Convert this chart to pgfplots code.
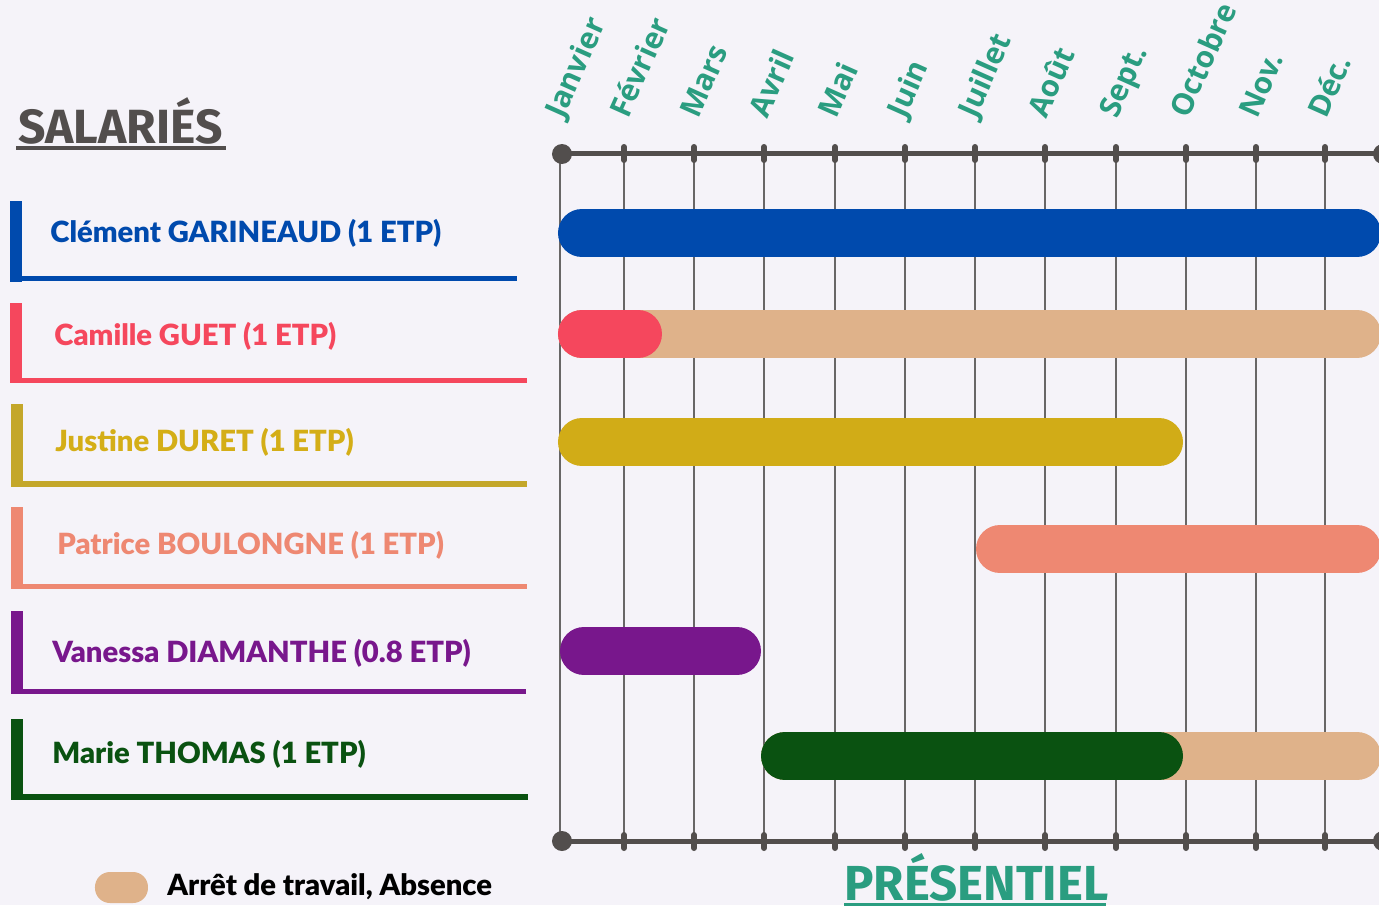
\documentclass[border=0pt]{standalone}
\usepackage{pgfplots}
\pgfplotsset{compat=1.18}
\usepackage{fontspec}
\setmainfont{Lato}
\newfontfamily\heavyfont{Lato Black}
\newfontfamily\monthfont{Open Sans}
\newfontfamily\titlefont{Fira Sans}
\definecolor{bgC}{HTML}{F5F3F9}
\definecolor{blueC}{HTML}{004AAD}
\definecolor{redC}{HTML}{F5475D}
\definecolor{tanC}{HTML}{DFB28A}
\definecolor{yellowC}{HTML}{D1AC17}
\definecolor{yellowT}{HTML}{D4AE17}
\definecolor{yellowL}{HTML}{C4A72A}
\definecolor{salmonC}{HTML}{EE8872}
\definecolor{purpleC}{HTML}{78178C}
\definecolor{greenC}{HTML}{0A5211}
\definecolor{axC}{HTML}{524E4D}
\definecolor{gridC}{HTML}{686666}
\definecolor{tealC}{HTML}{2A9D80}
\begin{document}
\begin{tikzpicture}
\fill[bgC] (-280pt,-32pt) rectangle (409.5pt,420.5pt);
\begin{axis}[
  scale only axis, width=409.5pt, height=344pt,
  xmin=0, xmax=819, ymin=153, ymax=841, y dir=reverse,
  clip=false,
  axis line style={draw=none},
  xtick={0,64,134,204,275,345,415,485,556,626,696,765},
  xticklabels={}, ytick=\empty,
  tick style={draw=none},
  xmajorgrids, major grid style={draw=gridC, line width=1pt},
]
% bars (x: pixel offset from Janvier line, y: row centre)
\addplot[draw=blueC, line width=24pt, line cap=round] coordinates {(22,233) (797,233)};
\addplot[draw=tanC, line width=24pt, line cap=round] coordinates {(22,334) (797,334)};
\addplot[draw=redC, line width=24pt, line cap=round] coordinates {(22,334) (78,334)};
\addplot[draw=yellowC, line width=24pt, line cap=round] coordinates {(22,442) (599,442)};
\addplot[draw=salmonC, line width=24pt, line cap=round] coordinates {(440,549) (797,549)};
\addplot[draw=purpleC, line width=24pt, line cap=round] coordinates {(24,651) (177,651)};
\addplot[draw=tanC, line width=24pt, line cap=round] coordinates {(225,756) (797,756)};
\addplot[draw=greenC, line width=24pt, line cap=round] coordinates {(225,756) (599,756)};
% timeline axes
\draw[axC, line width=2.5pt] (axis cs:0,153) -- (axis cs:821,153);
\draw[axC, line width=2.5pt] (axis cs:0,841) -- (axis cs:821,841);
\fill[axC] (axis cs:2,154) circle[radius=5pt];
\fill[axC] (axis cs:2,841) circle[radius=5pt];
\fill[axC] (axis cs:823,154) circle[radius=5pt];
\fill[axC] (axis cs:823,841) circle[radius=5pt];
\pgfplotsinvokeforeach{64,134,204,275,345,415,485,556,626,696,765}{
  \draw[axC, line width=3pt, line cap=round] (axis cs:#1,147) -- (axis cs:#1,160);
  \draw[axC, line width=3pt, line cap=round] (axis cs:#1,835) -- (axis cs:#1,848);
}
% month labels
\begin{scope}[every node/.style={rotate=66, anchor=base west, inner sep=0pt, text=tealC, font=\monthfont\bfseries\fontsize{15}{18}\selectfont}]
\node at (axis cs:3,120) {Janvier};
\node at (axis cs:68,120) {Février};
\node at (axis cs:138,120) {Mars};
\node at (axis cs:207,120) {Avril};
\node at (axis cs:276,120) {Mai};
\node at (axis cs:345,120) {Juin};
\node at (axis cs:416,120) {Juillet};
\node at (axis cs:486,120) {Août};
\node at (axis cs:557,120) {Sept.};
\node at (axis cs:628,120) {Octobre};
\node at (axis cs:697,120) {Nov.};
\node at (axis cs:766,120) {Déc.};
\end{scope}
% title
\node[anchor=base west, inner sep=0pt, text=axC, font=\titlefont\bfseries\fontsize{24}{28}\selectfont] at (axis cs:-542,143) {SALARIÉS};
\fill[axC] (axis cs:-544,146) rectangle (axis cs:-334,150);
\node[anchor=base west, inner sep=0pt, text=tealC, font=\titlefont\bfseries\fontsize{24.6}{28}\selectfont] at (axis cs:284,900) {PRÉSENTIEL};
\fill[tealC] (axis cs:284,903) rectangle (axis cs:546,907);
% row labels
\begin{scope}[every node/.style={anchor=base west, inner sep=0pt, font=\heavyfont\fontsize{14.6}{18}\selectfont}]
\fill[blueC] (axis cs:-550,201) rectangle (axis cs:-538,282);
\fill[blueC] (axis cs:-538,276) rectangle (axis cs:-43,281);
\node[text=blueC] at (axis cs:-510,242) {Clément GARINEAUD (1 ETP)};
\fill[redC] (axis cs:-550,303) rectangle (axis cs:-538,383);
\fill[redC] (axis cs:-538,378) rectangle (axis cs:-33,383);
\node[text=redC] at (axis cs:-506,345) {Camille GUET (1 ETP)};
\fill[yellowL] (axis cs:-549,404) rectangle (axis cs:-537,487);
\fill[yellowL] (axis cs:-537,481) rectangle (axis cs:-33,487);
\node[text=yellowT] at (axis cs:-505,451) {Justine DURET (1 ETP)};
\fill[salmonC] (axis cs:-549,507) rectangle (axis cs:-537,589);
\fill[salmonC] (axis cs:-537,584) rectangle (axis cs:-33,589);
\node[text=salmonC] at (axis cs:-503,554) {Patrice BOULONGNE (1 ETP)};
\fill[purpleC] (axis cs:-549,611) rectangle (axis cs:-537,694);
\fill[purpleC] (axis cs:-537,689) rectangle (axis cs:-34,694);
\node[text=purpleC] at (axis cs:-508,662) {Vanessa DIAMANTHE (0.8 ETP)};
\fill[greenC] (axis cs:-549,719) rectangle (axis cs:-537,800);
\fill[greenC] (axis cs:-537,794) rectangle (axis cs:-32,800);
\node[text=greenC] at (axis cs:-508,763) {Marie THOMAS (1 ETP)};
% legend
\fill[tanC, rounded corners=7.5pt] (axis cs:-465,872) rectangle (axis cs:-412,903);
\node[text=black, font=\heavyfont\fontsize{14.6}{16}\selectfont] at (axis cs:-393,895) {Arrêt de travail, Absence};
\end{scope}
\end{axis}
\pgfresetboundingbox
\path[use as bounding box] (-280pt,-32pt) rectangle (409.5pt,420.5pt);
\end{tikzpicture}
\end{document}
